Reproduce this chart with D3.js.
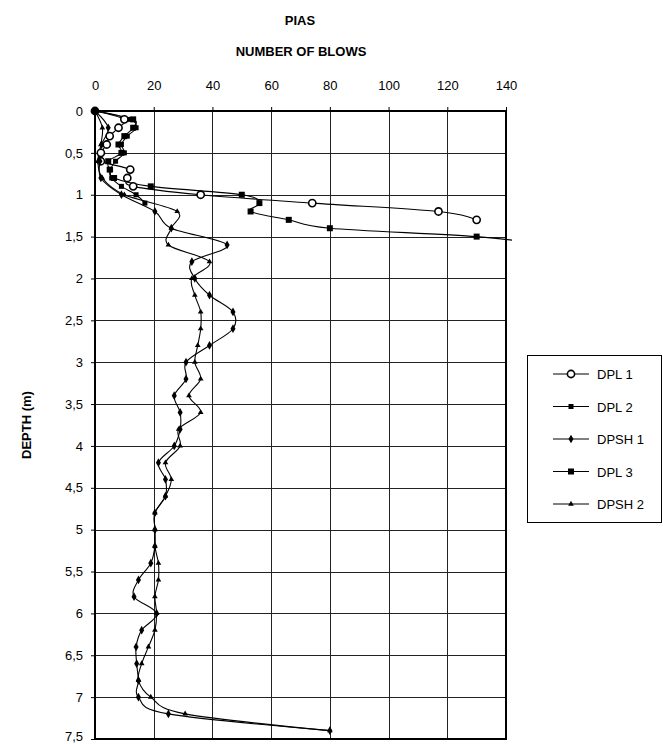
<!DOCTYPE html>
<html>
<head>
<meta charset="utf-8">
<script src="https://cdn.jsdelivr.net/npm/d3@7"></script>
<style>
  body { margin: 0; background: #fff; }
  svg { display: block; font-family: "Liberation Sans", Arial, sans-serif; }
</style>
</head>
<body>
<svg id="chart" width="663" height="744"></svg>
<script>
// depth (m) and number of blows per test
const dpl1Depth = [0, 0.1, 0.2, 0.3, 0.4, 0.5, 0.6, 0.7, 0.8, 0.9, 1.0, 1.1, 1.2, 1.3];
const dpl1Blows = [0, 10, 8, 5, 4, 2, 2, 12, 11, 13, 36, 74, 117, 130];

const dpl2Depth = [0, 0.1, 0.2, 0.3, 0.4, 0.5, 0.6, 0.7, 0.8, 0.9, 1.0, 1.1];
const dpl2Blows = [0, 12, 14, 11, 9, 10, 7, 5.3, 5.7, 9, 14, 17];

const dpl3Depth = [0, 0.1, 0.2, 0.3, 0.4, 0.5, 0.6, 0.7, 0.8, 0.9, 1.0, 1.1, 1.2, 1.3, 1.4, 1.5, 1.6];
const dpl3Blows = [0, 13, 13, 10, 8, 9, 4.5, 5, 6.5, 19, 50, 56, 53, 66, 80, 130, 153];

const dpshDepth = [0, 0.2, 0.4, 0.6, 0.8, 1.0, 1.2, 1.4, 1.6, 1.8, 2.0, 2.2, 2.4, 2.6, 2.8,
  3.0, 3.2, 3.4, 3.6, 3.8, 4.0, 4.2, 4.4, 4.6, 4.8, 5.0, 5.2, 5.4, 5.6, 5.8, 6.0,
  6.2, 6.4, 6.6, 6.8, 7.0, 7.2, 7.4];
const dpsh1Blows = [0, 4.5, 2.3, 1.7, 2, 9, 20.4, 26, 45, 33, 34, 39, 47, 47, 39,
  31, 31, 27, 29, 29, 27, 21.6, 24, 24, 20.4, 20.4, 20.4, 19, 14.8, 13.3, 21,
  15.9, 14, 14.2, 14.8, 14.8, 25, 80];
const dpsh2Blows = [0, 2.5, 2, 1, 2.5, 10, 28, 26, 25, 39, 33, 34, 36, 36, 35,
  34, 36, 32, 36, 28.5, 29, 24, 26, 24, 20.4, 20.4, 20.4, 21.6, 21.6, 20.4, 21,
  20.4, 18.2, 15.9, 14.8, 19, 30.7, 80];

const xTicks = [0, 20, 40, 60, 80, 100, 120, 140];
const yTicks = [0, 0.5, 1, 1.5, 2, 2.5, 3, 3.5, 4, 4.5, 5, 5.5, 6, 6.5, 7, 7.5];

const seriesNames = ['DPL 1', 'DPL 2', 'DPSH 1', 'DPL 3', 'DPSH 2'];

const series = [
  { name: 'DPL 1', depth: dpl1Depth, blows: dpl1Blows, marker: 'circle' },
  { name: 'DPL 2', depth: dpl2Depth, blows: dpl2Blows, marker: 'square' },
  { name: 'DPSH 1', depth: dpshDepth, blows: dpsh1Blows, marker: 'diamond' },
  { name: 'DPL 3', depth: dpl3Depth, blows: dpl3Blows, marker: 'bigsquare' },
  { name: 'DPSH 2', depth: dpshDepth, blows: dpsh2Blows, marker: 'triangle' }
];

const svg = d3.select('#chart');
const plotLeft = 95, plotRight = 506, plotTop = 111, plotBottom = 739;

const x = d3.scaleLinear().domain([0, 140]).range([plotLeft, plotRight]);
const y = d3.scaleLinear().domain([0, 7.5]).range([plotTop, plotBottom]);

// titles
svg.append('text').attr('x', 300).attr('y', 25).attr('text-anchor', 'middle')
  .attr('font-size', 13).attr('font-weight', 'bold').text('PIAS');
svg.append('text').attr('x', 301).attr('y', 56).attr('text-anchor', 'middle')
  .attr('font-size', 13).attr('font-weight', 'bold').text('NUMBER OF BLOWS');
svg.append('text')
  .attr('transform', 'translate(31,' + 425 + ') rotate(-90)')
  .attr('text-anchor', 'middle').attr('font-size', 13).attr('font-weight', 'bold')
  .text('DEPTH (m)');

// grid
const grid = svg.append('g').attr('stroke', '#222').attr('stroke-width', 1);
grid.selectAll('line.v').data(xTicks.slice(1, -1)).enter().append('line')
  .attr('x1', d => Math.round(x(d)) + 0.5).attr('x2', d => Math.round(x(d)) + 0.5)
  .attr('y1', plotTop).attr('y2', plotBottom);
grid.selectAll('line.h').data(yTicks.slice(1, -1)).enter().append('line')
  .attr('y1', d => Math.round(y(d)) + 0.5).attr('y2', d => Math.round(y(d)) + 0.5)
  .attr('x1', plotLeft).attr('x2', plotRight);

// axes
const xAxis = d3.axisTop(x).tickValues(xTicks).tickSize(4).tickSizeOuter(0).tickPadding(17);
const gx = svg.append('g').attr('transform', 'translate(0,' + plotTop + ')').call(xAxis);
const yAxis = d3.axisLeft(y).tickValues(yTicks).tickSize(4).tickSizeOuter(0).tickPadding(8)
  .tickFormat(d => String(d).replace('.', ','));
const gy = svg.append('g').attr('transform', 'translate(' + plotLeft + ',0)').call(yAxis);
[gx, gy].forEach(g => {
  g.selectAll('text').attr('font-size', 13).attr('fill', '#000')
    .attr('font-family', '"Liberation Sans", Arial, sans-serif');
  g.selectAll('line').attr('stroke', '#000');
  g.select('.domain').remove();
});
// keep the last depth label inside the page
gy.selectAll('.tick').filter(d => d === 7.5).select('text').attr('dy', '0.1em');

// plot frame
svg.append('rect').attr('x', plotLeft).attr('y', plotTop)
  .attr('width', plotRight - plotLeft).attr('height', plotBottom - plotTop)
  .attr('fill', 'none').attr('stroke', '#000').attr('stroke-width', 2);

svg.append('clipPath').attr('id', 'clip').append('rect')
  .attr('x', plotLeft - 6).attr('y', plotTop - 6)
  .attr('width', plotRight - plotLeft + 12).attr('height', plotBottom - plotTop + 12);

const line = d3.line()
  .x(d => x(d[0])).y(d => y(d[1]))
  .curve(d3.curveCatmullRom.alpha(0));

function drawMarker(g, type, cx, cy) {
  if (type === 'circle') {
    g.append('circle').attr('cx', cx).attr('cy', cy).attr('r', 3.6)
      .attr('fill', '#fff').attr('stroke', '#000').attr('stroke-width', 1.6);
  } else if (type === 'square' || type === 'bigsquare') {
    const s = type === 'square' ? 5 : 6;
    g.append('rect').attr('x', cx - s / 2).attr('y', cy - s / 2)
      .attr('width', s).attr('height', s).attr('fill', '#000');
  } else if (type === 'diamond') {
    g.append('path').attr('d', d3.symbol(d3.symbolDiamond, 22)())
      .attr('transform', 'translate(' + cx + ',' + cy + ')').attr('fill', '#000');
  } else {
    g.append('path').attr('d', d3.symbol(d3.symbolTriangle, 14)())
      .attr('transform', 'translate(' + cx + ',' + cy + ')').attr('fill', '#000');
  }
}

const plot = svg.append('g').attr('clip-path', 'url(#clip)');
series.forEach(s => {
  const pts = s.blows.map((b, i) => [b, s.depth[i]]);
  plot.append('path').datum(pts).attr('d', line)
    .attr('fill', 'none').attr('stroke', '#000').attr('stroke-width', 1.1);
});
series.forEach(s => {
  const g = plot.append('g');
  s.blows.forEach((b, i) => {
    if (b <= 140) drawMarker(g, s.marker, x(b), y(s.depth[i]));
  });
});

// legend
const legend = svg.append('g');
legend.append('rect').attr('x', 527.5).attr('y', 355.5).attr('width', 134).attr('height', 167)
  .attr('fill', '#fff').attr('stroke', '#000').attr('stroke-width', 1);
series.forEach((s, i) => {
  const ly = 374 + i * 32.5;
  legend.append('line').attr('x1', 553).attr('x2', 589).attr('y1', ly).attr('y2', ly)
    .attr('stroke', '#000').attr('stroke-width', 1.1);
  drawMarker(legend, s.marker, 571, ly);
  legend.append('text').attr('x', 597).attr('y', ly + 5).attr('font-size', 13)
    .text(seriesNames[i]);
});
</script>
</body>
</html>
